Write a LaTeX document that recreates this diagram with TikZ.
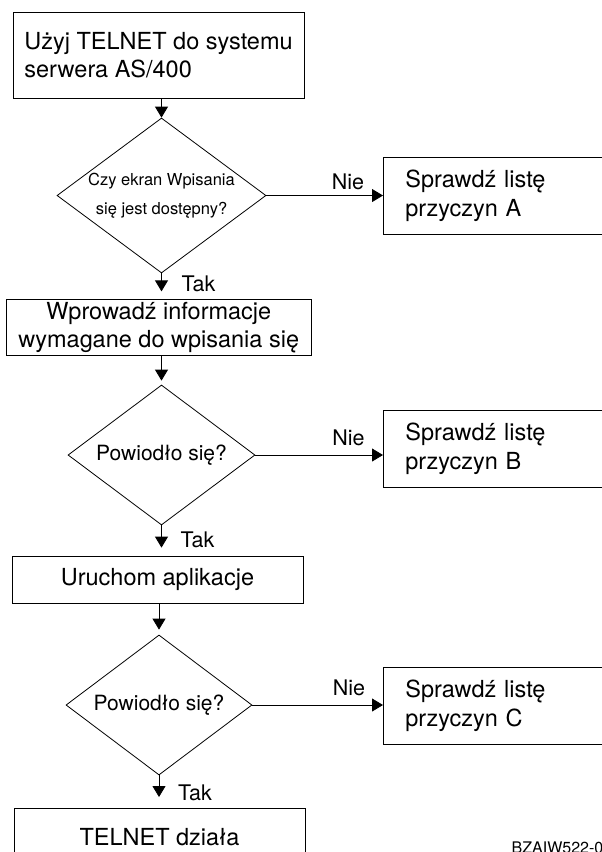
\documentclass[tikz,border=0pt]{standalone}
\usepackage{fontspec}
\setmainfont{TeX Gyre Heros}
\usepackage{tikz}
\usetikzlibrary{arrows.meta,shapes.geometric,positioning}

\begin{document}
\begin{tikzpicture}[x=1pt,y=-1pt,line width=0.8pt,>={Triangle[length=11pt,width=13pt]}]
    \tikzset{box/.style={draw,rectangle,inner sep=0pt,align=center,font=\fontsize{23.5}{28.5}\selectfont},
      decision/.style={draw,diamond,inner sep=0pt,align=center,font=\fontsize{21}{21}\selectfont},
      reason/.style={draw,rectangle,anchor=west,inner xsep=22pt,inner ysep=0pt,text width=196pt,minimum height=77pt,align=left,font=\fontsize{23.5}{29}\selectfont},
      lbl/.style={font=\fontsize{21.5}{21.5}\selectfont}}
    \useasboundingbox (0,0) rectangle (602,852);
    \clip (0,0) rectangle (602,852);
    \node[box,align=left,minimum width=291pt,minimum height=86pt] (telnet) at (158.5,55) {Użyj TELNET do systemu\\serwera AS/400};
    \node[decision,minimum width=209pt,minimum height=155pt,shape aspect=1.35,font=\fontsize{16.5}{29}\selectfont] (signon) at (161.5,195.5) {Czy ekran Wpisania\\się jest dostępny?};
    \node[reason] (lista) at (383,195.5) {Sprawdź listę\\przyczyn A};
    \node[box,minimum width=304.5pt,minimum height=55.5pt] (login) at (158.75,327.5) {Wprowadź informacje\\wymagane do wpisania się};
    \node[decision,minimum width=187pt,minimum height=140pt,shape aspect=1.34] (ok1) at (161.5,455) {Powiodło się?};
    \node[reason] (listb) at (383,449) {Sprawdź listę\\przyczyn B};
    \node[box,minimum width=291pt,minimum height=47pt] (app) at (157.5,579.5) {Uruchom aplikacje};
    \node[decision,minimum width=186pt,minimum height=140pt,shape aspect=1.33] (ok2) at (159,705) {Powiodło się?};
    \node[reason] (listc) at (383,705.5) {Sprawdź listę\\przyczyn C};
    \node[box,anchor=north,minimum width=291pt,text height=17pt,inner ysep=20pt] (done) at (159.5,808) {TELNET działa};
    \node[anchor=base west,font=\fontsize{16}{16}\selectfont] (code) at (508,853.5) {BZAIW522-0};
    \path[->]
    (telnet.south -| signon) edge (signon.north)
    (signon) edge node[pos=.7,above,inner sep=5pt,lbl] {Nie} (lista)
    (signon) edge[shorten >=8pt] node[pos=.4,right=16.5pt,lbl] {Tak} (login.north -| signon)
    (login.south -| ok1) edge[shorten >=4pt] (ok1.north)
    (ok1.east) edge node[pos=.73,above,inner sep=8.5pt,lbl] {Nie} (ok1 -| listb.west)
    (ok1) edge[shorten >=8pt] node[pos=.47,right=15.5pt,lbl] {Tak} (app.north -| ok1)
    (app.south -| ok2) edge[shorten >=5pt] (ok2.north)
    (ok2.east) edge node[pos=.74,above,inner sep=8.5pt,lbl] {Nie} (ok2 -| listc.west)
    (ok2) edge[shorten >=11pt] node[pos=.53,right=15.5pt,lbl] {Tak} (done.north -| ok2)
    ;
  \end{tikzpicture}
\end{document}
